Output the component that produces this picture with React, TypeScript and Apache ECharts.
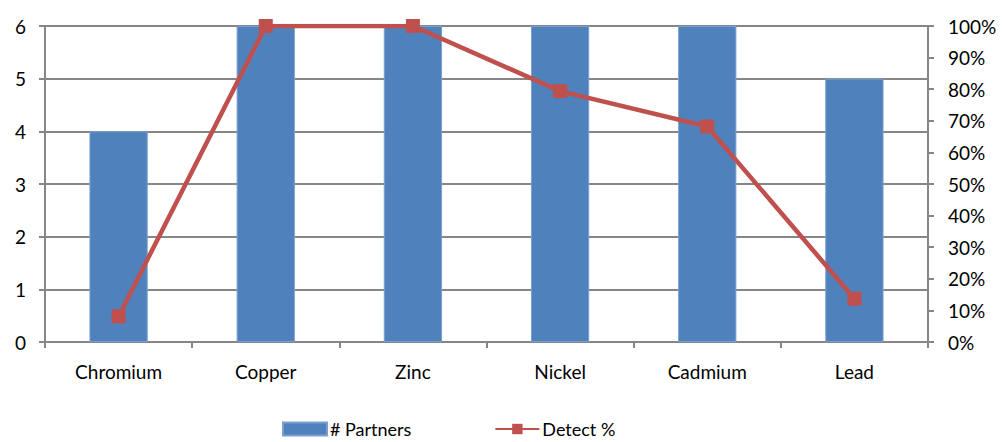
import React, { useEffect, useRef } from "react";
import * as echarts from "echarts";

const categories = ["Chromium", "Copper", "Zinc", "Nickel", "Cadmium", "Lead"];
const partners = [4, 6, 6, 6, 6, 5];
const detectPct = [0.081, 1.0, 1.0, 0.794, 0.682, 0.137];
const leftTicks = [0, 1, 2, 3, 4, 5, 6];

const FONT = "Lato, 'Open Sans', sans-serif";
const FS = 19;

export default function App() {
  const ref = useRef<HTMLDivElement>(null);
  useEffect(() => {
    if (!ref.current) return;
    const chart = echarts.init(ref.current, null, { renderer: "svg" });
    chart.setOption({
      animation: false,
      backgroundColor: "#ffffff",
      textStyle: { fontFamily: FONT },
      grid: { left: 45, right: 74, top: 26, bottom: 100, containLabel: false },
      legend: {
        left: 282,
        top: 420,
        padding: 0,
        itemGap: 83,
        itemWidth: 44,
        itemHeight: 13,
        textStyle: { fontFamily: FONT, fontSize: 18, lineHeight: 17, color: "#000", padding: [0, 0, 0, -2] },
        data: [
          { name: "# Partners", icon: "rect" },
          { name: "Detect %" },
        ],
      },
      xAxis: {
        type: "category",
        data: categories,
        boundaryGap: true,
        axisLine: { show: true, lineStyle: { color: "#868686", width: 2 } },
        axisTick: { show: true, alignWithLabel: false, length: 6, lineStyle: { color: "#868686", width: 2 } },
        axisLabel: { color: "#000", fontSize: FS, margin: 20, fontFamily: FONT },
        splitLine: { show: false },
      },
      yAxis: [
        {
          type: "value",
          min: leftTicks[0],
          max: leftTicks[leftTicks.length - 1],
          interval: 1,
          position: "left",
          axisLine: { show: true, lineStyle: { color: "#868686", width: 2 } },
          axisTick: { show: true, length: 6, lineStyle: { color: "#868686", width: 2 } },
          axisLabel: { color: "#000", fontSize: FS, margin: 19, fontFamily: FONT },
          splitLine: { show: true, lineStyle: { color: "#868686", width: 2 } },
        },
        {
          type: "value",
          min: 0,
          max: 1,
          interval: 0.1,
          position: "right",
          axisLine: { show: true, lineStyle: { color: "#868686", width: 2 } },
          axisTick: { show: true, length: 6, lineStyle: { color: "#868686", width: 2 } },
          axisLabel: {
            color: "#000",
            fontSize: FS,
            margin: 20,
            fontFamily: FONT,
            formatter: (v: number) => Math.round(v * 100) + "%",
          },
          splitLine: { show: false },
        },
      ],
      series: [
        {
          name: "# Partners",
          type: "bar",
          yAxisIndex: 0,
          data: partners,
          barWidth: "39.6%",
          itemStyle: { color: "#4F81BD", borderColor: "#7BA0CF", borderWidth: 1 },
          z: 2,
        },
        {
          name: "Detect %",
          type: "line",
          yAxisIndex: 1,
          data: detectPct,
          symbol: "rect",
          symbolSize: 14,
          lineStyle: { color: "#C0504D", width: 4.5 },
          itemStyle: { color: "#C0504D" },
          z: 5,
        },
      ],
    });
    return () => chart.dispose();
  }, []);
  return (
    <div
      ref={ref}
      style={{ position: "fixed", left: 0, top: 0, width: 1002, height: 442, background: "#fff" }}
    />
  );
}
